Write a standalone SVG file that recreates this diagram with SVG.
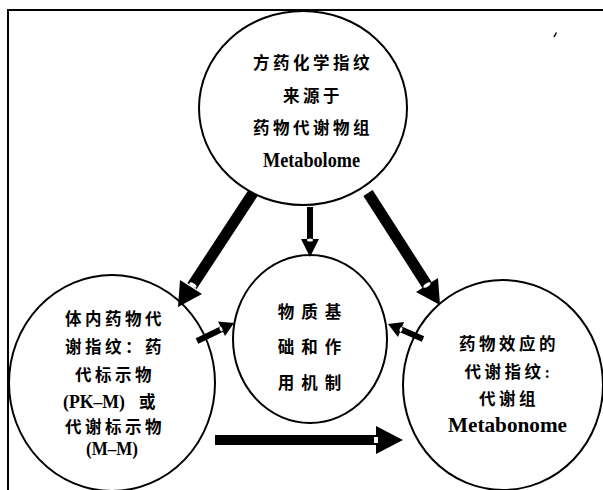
<svg xmlns="http://www.w3.org/2000/svg" width="603" height="490" viewBox="0 0 603 490">
<style>
.node{fill:#fff;stroke:#000;stroke-width:2}
.t{font-family:"Liberation Serif","Noto Sans CJK SC",serif;font-weight:bold;font-size:16.5px;letter-spacing:3.5px;fill:#000;text-anchor:middle}
.lat{font-family:"Liberation Serif","Noto Sans CJK SC",serif;font-weight:bold;font-size:20px;fill:#000;text-anchor:middle}
.shaft{stroke:#000;fill:none}
.head{fill:#000}
.notch{fill:#fff}
.frame{stroke:#000;stroke-width:2;fill:none}
</style>
<rect width="603" height="490" fill="#fff"/>
<path class="frame" d="M8,490 V10 H603"/>
<path d="M554,37 L556.5,32.5" stroke="#000" stroke-width="1.5"/>

<g id="node-top">
<ellipse class="node" cx="303" cy="108" rx="104" ry="97"/>
<text class="t" x="313" y="69">方药化学指纹</text>
<text class="t" x="313" y="102">来源于</text>
<text class="t" x="313" y="134">药物代谢物组</text>
<text class="lat" x="311.5" y="167" textLength="97" lengthAdjust="spacingAndGlyphs">Metabolome</text>
</g>

<g id="node-center">
<ellipse class="node" cx="310" cy="339" rx="77" ry="84"/>
<text class="t" x="313" y="318" style="letter-spacing:7px">物质基</text>
<text class="t" x="313" y="353" style="letter-spacing:7px">础和作</text>
<text class="t" x="313" y="389" style="letter-spacing:7px">用机制</text>
</g>

<g id="node-left">
<ellipse class="node" cx="112" cy="383" rx="103" ry="108"/>
<text class="t" x="115" y="325">体内药物代</text>
<text class="t" x="115" y="353">谢指纹：药</text>
<text class="t" x="115" y="381">代标示物</text>
<text x="63" y="408" style="font-family:'Liberation Serif','Noto Sans CJK SC',serif;font-weight:bold;font-size:18px"><tspan textLength="62" lengthAdjust="spacingAndGlyphs">(PK–M)</tspan><tspan x="139" style="font-size:16.5px">或</tspan></text>
<text class="t" x="115" y="433">代谢标示物</text>
<text class="lat" x="112" y="455" style="font-size:18px" textLength="52" lengthAdjust="spacingAndGlyphs">(M–M)</text>
</g>

<g id="node-right">
<ellipse class="node" cx="503" cy="385" rx="100" ry="105"/>
<text class="t" x="509" y="350">药物效应的</text>
<text class="t" x="509" y="378">代谢指纹:</text>
<text class="t" x="509" y="405">代谢组</text>
<text class="lat" x="507.5" y="432" textLength="119" lengthAdjust="spacingAndGlyphs">Metabonome</text>
</g>

<g id="connectors">
<!-- top to left -->
<line class="shaft" x1="253" y1="193" x2="192" y2="286" stroke-width="11"/>
<polygon class="head" points="178,307 202,294 180,280"/>
<ellipse class="notch" cx="193" cy="285" rx="4" ry="1.8" transform="rotate(33 193 285)"/>
<!-- top to center -->
<line class="shaft" x1="310" y1="207" x2="310" y2="240" stroke-width="6"/>
<polygon class="head" points="310,257 301,239 319,239"/>
<ellipse class="notch" cx="310" cy="240" rx="3" ry="1.5"/>
<!-- top to right -->
<line class="shaft" x1="368" y1="193" x2="427" y2="285" stroke-width="11"/>
<polygon class="head" points="440,305 438,278 416,292"/>
<ellipse class="notch" cx="427" cy="285" rx="4" ry="1.8" transform="rotate(-33 427 285)"/>
<!-- left to center -->
<line class="shaft" x1="197" y1="341" x2="222" y2="329" stroke-width="6"/>
<polygon class="head" points="234,323 225,336 218,321.5"/>
<ellipse class="notch" cx="221" cy="329" rx="2.5" ry="1.3" transform="rotate(66 221 329)"/>
<!-- right to center -->
<line class="shaft" x1="423" y1="339" x2="400" y2="329" stroke-width="6"/>
<polygon class="head" points="388,324 404,322 398,337"/>
<ellipse class="notch" cx="401" cy="329.5" rx="2.5" ry="1.3" transform="rotate(-68 401 329.5)"/>
<!-- left to right -->
<line class="shaft" x1="215" y1="440" x2="377" y2="440" stroke-width="10"/>
<polygon class="head" points="403,440 376,426 376,454"/>
<rect class="notch" x="374" y="437" width="4" height="6"/>
</g>
</svg>
